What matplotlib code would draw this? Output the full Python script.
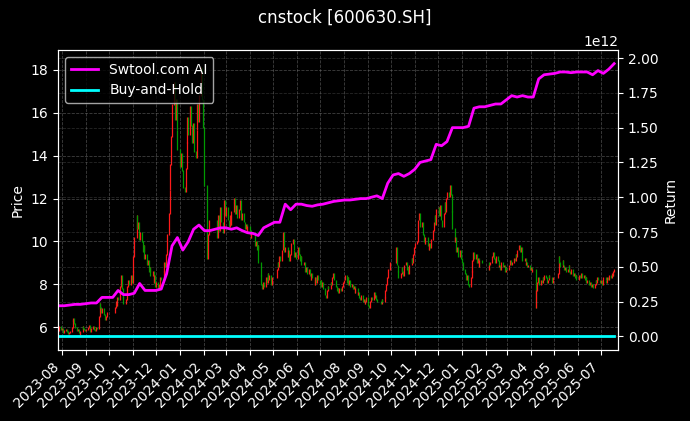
import numpy as np
import pandas as pd
import matplotlib
matplotlib.use("Agg")
import matplotlib.pyplot as plt
import matplotlib.dates as mdates

plt.style.use("dark_background")

# ---- daily closing prices (one line per month) ----
close = [
    5.85, 6.05, 5.9,                                                       # 2023-07 (3)
    5.95, 5.8, 5.75, 5.85, 5.9, 5.8, 5.7, 5.75, 5.8, 6.0, 6.3, 6.4, 6.15, 6.0,
    5.85, 5.9, 5.75, 5.65, 5.8, 6.05, 5.95, 5.9, 5.85,                     # 2023-08 (23)
    5.9, 6.0, 6.1, 5.9, 5.8, 5.95, 6.05, 5.9, 5.85, 6.0, 5.95,
    6.5, 7.1, 6.9, 6.7, 6.85, 6.6, 6.35, 6.5, 6.7,                         # 2023-09 (20)
    6.9, 7.2, 7.0, 7.4, 7.3, 7.9, 8.4, 7.8, 7.4, 7.1, 7.3, 7.6, 7.9, 8.2, 8.0,
    8.4, 8.1,                                                              # 2023-10 (17)
    8.6, 9.3, 10.2, 11.2, 10.6, 10.9, 10.1, 10.4, 10.0, 9.5, 9.8, 9.2, 9.4,
    8.9, 9.1, 8.6, 8.8, 8.4, 8.6, 8.1, 8.4, 7.9,                           # 2023-11 (22)
    8.1, 7.8, 8.0, 7.9, 8.3, 8.2, 8.6, 9.0, 8.8, 9.4, 10.3,
    11.3, 12.4, 13.6, 14.9, 16.4, 17.4, 15.7, 16.6, 15.2, 14.3,            # 2023-12 (21)
    13.5, 14.1, 13.3, 12.5, 12.3, 13.4, 14.6, 15.8, 15.0, 16.3, 15.4, 14.6,
    15.5, 14.2, 13.9, 15.2, 16.4, 15.6, 16.8, 18.1, 16.6, 15.3,            # 2024-01 (22)
    14.0, 12.6, 11.4, 9.2, 10.3, 11.0, 10.2, 11.2, 10.5, 11.6, 10.9,
    10.4, 11.3, 11.9, 11.2,                                                # 2024-02 (15)
    11.6, 11.0, 10.7, 11.2, 10.8, 11.4, 11.8, 12.0, 11.3, 11.7, 11.1,
    11.5, 11.9, 11.4, 11.0, 11.3, 10.9, 10.6, 10.8, 10.4, 10.7,            # 2024-03 (21)
    10.5, 10.2, 10.4, 9.8, 10.0, 9.6, 9.8, 9.0, 8.4, 8.0, 7.8, 8.1, 7.9,
    8.3, 8.1, 8.5, 8.2, 8.4, 8.0, 8.3,                                     # 2024-04 (20)
    8.7, 9.0, 8.8, 9.3, 9.1, 9.6, 10.4, 9.9, 9.5, 9.7,
    9.3, 9.6, 9.1, 9.4, 9.9, 10.1, 9.6, 9.3, 9.5, 9.2,                     # 2024-05 (20)
    9.7, 9.4, 9.1, 9.3, 8.9, 9.0, 8.6, 8.8, 8.5,
    8.7, 8.4, 8.2, 8.5, 8.3, 8.0, 8.3, 8.1, 8.4, 8.2,                      # 2024-06 (19)
    8.0, 8.2, 7.9, 8.1, 7.8, 7.5, 7.4, 7.7, 7.9, 7.8, 8.1, 8.0, 8.3, 8.5,
    8.2, 7.9, 7.7, 7.8, 7.6, 7.8, 7.7, 7.9, 8.1,                           # 2024-07 (23)
    8.2, 8.4, 8.1, 8.3, 8.0, 8.2, 7.9, 8.0, 7.8, 7.9, 7.6, 7.8,
    7.5, 7.6, 7.4, 7.3, 7.5, 7.2, 7.3, 7.1, 7.2, 7.4,                      # 2024-08 (22)
    7.0, 6.9, 7.2, 7.4, 7.3, 7.6, 7.4, 7.5, 7.3, 7.2, 7.1, 7.3, 7.2,
    7.4, 7.7, 8.0, 8.3, 8.7, 9.0,                                          # 2024-09 (19)
    9.7, 8.9, 8.6, 8.3, 8.5, 8.8, 8.6, 8.4, 8.9,
    9.0, 8.7, 8.8, 8.5, 8.9, 9.2, 9.0, 9.4, 9.7,                           # 2024-10 (18)
    9.9, 10.0, 10.4, 11.0, 11.3, 10.7, 10.9, 10.3, 10.0, 9.9, 10.2,
    9.8, 9.6, 9.9, 9.7, 10.1, 10.5, 10.9, 11.2, 10.8, 11.5,                # 2024-11 (21)
    11.6, 11.2, 11.7, 11.0, 10.7, 11.3, 11.8, 11.4, 12.0, 12.3, 12.1, 12.6,
    12.2, 11.4, 10.6, 10.0, 10.2, 9.5, 9.7, 9.3, 9.6, 9.2,                 # 2024-12 (22)
    9.0, 8.7, 8.5, 8.2, 8.4, 8.0, 7.9, 8.3, 8.6, 9.1, 9.5, 9.2,
    9.4, 9.0, 9.2, 8.8, 9.1, 9.0,                                          # 2025-01 (18)
    8.7, 8.9, 9.0, 9.3, 9.5, 9.2, 9.0, 9.3, 9.1, 8.8, 8.9,
    8.7, 9.0, 8.8, 8.9, 8.6, 8.8, 8.7,                                     # 2025-02 (18)
    8.8, 8.9, 9.1, 8.9, 9.0, 9.2, 9.1, 9.4, 9.3, 9.6, 9.8,
    9.5, 9.7, 9.3, 9.1, 9.2, 8.9, 9.0, 8.8, 8.9, 8.7,                      # 2025-03 (21)
    8.8, 8.6, 8.7, 6.9, 7.7, 8.1, 8.3, 8.0, 8.2, 8.1, 8.3, 8.2, 8.4,
    8.3, 8.1, 8.2, 8.4, 8.3, 8.1, 8.2, 8.3,                                # 2025-04 (21)
    8.5, 9.3, 9.0, 8.8, 9.1, 8.9, 8.7, 8.8, 8.6, 8.7,
    8.9, 8.6, 8.5, 8.7, 8.4, 8.5, 8.3, 8.4, 8.2,                           # 2025-05 (19)
    8.4, 8.3, 8.5, 8.3, 8.4, 8.2, 8.3, 8.1, 8.2, 8.0,
    8.1, 7.9, 8.0, 7.85, 8.0, 8.2, 8.1, 8.3, 8.2, 8.1,                     # 2025-06 (20)
    8.2, 8.0, 8.1, 8.3, 8.2, 8.1, 8.3, 8.2, 8.4, 8.3, 8.5, 8.4, 8.6, 8.7,  # 2025-07 (14)
]

# ---- strategy equity, weekly (Fridays), in units of 1e12 ----
strategy = [
    0.22, 0.22, 0.225, 0.23, 0.23, 0.235, 0.24, 0.24, 0.28, 0.28,
    0.28, 0.33, 0.30, 0.30, 0.31, 0.38, 0.33, 0.33, 0.33, 0.34,
    0.45, 0.65, 0.71, 0.62, 0.68, 0.77, 0.80, 0.76, 0.76, 0.77,
    0.78, 0.78, 0.77, 0.78, 0.76, 0.745, 0.74, 0.725, 0.78, 0.80,
    0.82, 0.82, 0.95, 0.91, 0.95, 0.95, 0.94, 0.935, 0.945, 0.95,
    0.96, 0.97, 0.975, 0.98, 0.98, 0.985, 0.99, 0.99, 1.00, 1.01,
    0.99, 1.10, 1.16, 1.17, 1.15, 1.17, 1.20, 1.25, 1.26, 1.27,
    1.38, 1.37, 1.40, 1.50, 1.50, 1.50, 1.51, 1.64, 1.65, 1.65,
    1.66, 1.67, 1.67, 1.70, 1.73, 1.72, 1.73, 1.72, 1.72, 1.85,
    1.88, 1.885, 1.89, 1.90, 1.90, 1.895, 1.90, 1.90, 1.90, 1.88,
    1.91, 1.89, 1.92, 1.96,
]

holidays = (
    ["2023-09-29"] + list(pd.date_range("2023-10-02", "2023-10-06").strftime("%Y-%m-%d"))
    + ["2024-01-01", "2024-02-09"] + list(pd.date_range("2024-02-12", "2024-02-16").strftime("%Y-%m-%d"))
    + ["2024-04-04", "2024-04-05", "2024-05-01", "2024-05-02", "2024-05-03", "2024-06-10",
       "2024-09-16", "2024-09-17", "2024-10-01", "2024-10-02", "2024-10-03", "2024-10-04",
       "2024-10-07", "2025-01-01", "2025-01-28", "2025-01-29", "2025-01-30", "2025-01-31",
       "2025-02-03", "2025-02-04", "2025-04-04", "2025-05-01", "2025-05-02", "2025-05-05",
       "2025-06-02"]
)

dates = pd.bdate_range("2023-07-27", "2025-07-18")
dates = dates[~dates.isin(pd.to_datetime(holidays))]
n = min(len(dates), len(close))
dates = dates[:n]
c = np.array(close[:n], dtype=float)
o = np.r_[c[0] - 0.05, c[:-1]]
up = c >= o
lo = np.minimum(o, c) - 0.02
hi = np.maximum(o, c) + 0.02
cols = np.where(up, "#ff1a1a", "#009a00")

wdates = pd.date_range("2023-07-28", periods=len(strategy), freq="7D")
strat = np.array(strategy) * 1e12
buy_hold = c / c[0]

fig = plt.figure(figsize=(6.9, 4.21), dpi=100)
ax1 = fig.add_axes([58 / 690, 71 / 421, 560 / 690, 300 / 421])
# one collection in date order so later candles overlay earlier ones
ax1.vlines(dates, lo, hi, colors=list(cols), linewidth=0.9)
ax1.set_ylim(4.93, 18.93)
ax1.set_xlim(pd.Timestamp("2023-07-27"), pd.Timestamp("2025-07-23"))
ax1.set_ylabel("Price")
ax1.grid(True, color="gray", linestyle="--", linewidth=0.6, alpha=0.5)
ax1.xaxis.set_major_locator(mdates.MonthLocator())
ax1.xaxis.set_major_formatter(mdates.DateFormatter("%Y-%m"))
for lab in ax1.get_xticklabels():
    lab.set_rotation(45)
    lab.set_ha("right")

ax2 = ax1.twinx()
ax2.plot(wdates, strat, color="magenta", linewidth=2, label="Swtool.com AI")
ax2.plot(dates, buy_hold, color="cyan", linewidth=2, label="Buy-and-Hold")
ax2.set_ylabel("Return")
ax2.grid(True, color="gray", linestyle="--", linewidth=0.6, alpha=0.3)
ax2.legend(loc="upper left")

fig.suptitle("cnstock [600630.SH]", fontsize=12)
fig.savefig("out.png", dpi=100)
